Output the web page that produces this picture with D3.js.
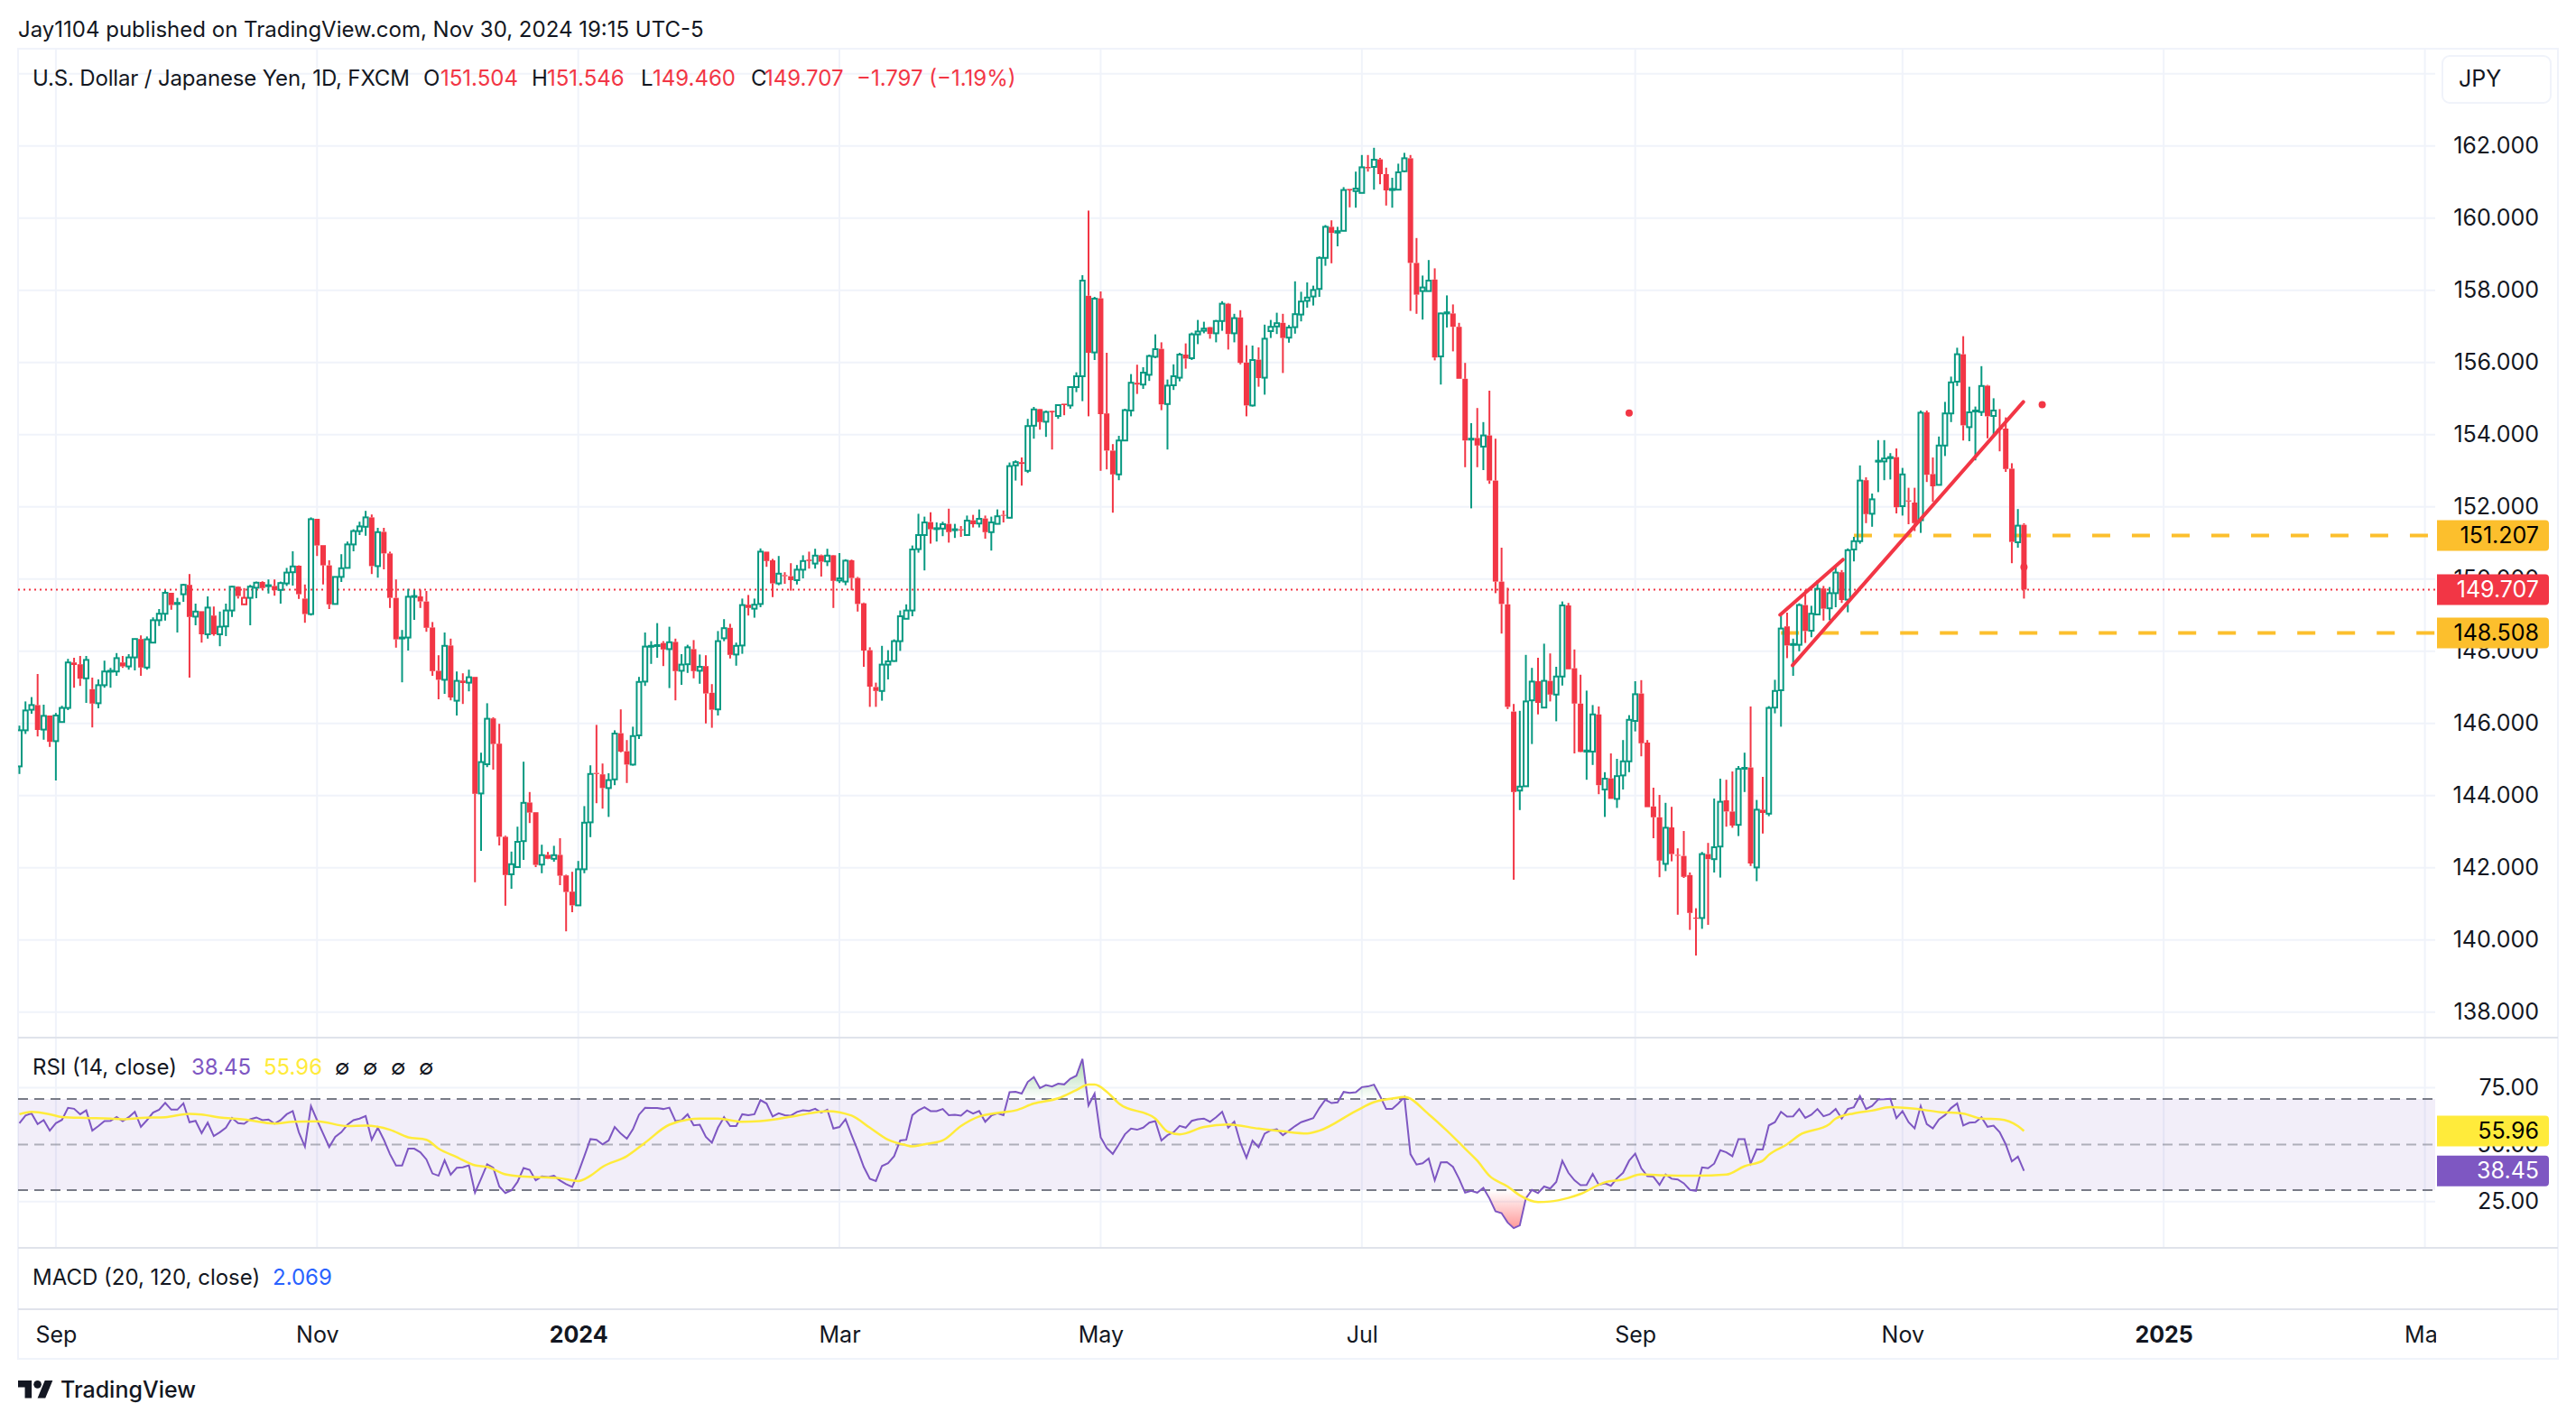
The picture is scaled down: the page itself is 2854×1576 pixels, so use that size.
<!DOCTYPE html>
<html>
<head>
<meta charset="utf-8">
<script src="https://cdn.jsdelivr.net/npm/d3@7"></script>
<style>
  html, body { margin: 0; padding: 0; background: #fff; }
  text { font-family: Inter, "Noto Sans", sans-serif; fill: #131722; }
</style>
</head>
<body>
<div id="chart"></div>
<script>
// daily candles
const opens = [
  144.81,145.81,146.38,146.51,145.83,146.22,145.51,146.04,146.43,147.69,
  147.64,147.25,146.95,146.56,147.06,147.44,147.44,147.69,147.58,147.83,
  148.34,147.55,148.24,148.86,149.04,149.62,149.31,149.58,149.84,148.96,
  149.11,148.47,148.99,148.47,148.69,149.13,149.79,149.30,149.48,149.76,
  149.92,149.81,149.81,149.70,149.88,150.19,150.37,149.46,149.03,151.67,
  150.94,150.38,149.31,150.06,150.31,150.96,151.33,151.45,151.71,150.36,
  151.31,150.71,149.48,148.36,148.38,149.51,149.52,149.38,148.66,147.46,
  147.21,148.16,146.63,147.19,147.13,147.29,144.06,144.87,146.14,145.44,
  142.86,141.82,142.02,142.74,143.81,143.54,142.09,142.36,142.25,142.36,
  141.79,141.34,140.96,141.96,143.26,144.63,144.59,144.21,144.45,145.73,
  145.23,144.86,145.67,147.16,148.13,148.15,148.23,148.06,148.26,147.46,
  147.64,148.06,147.46,147.59,146.85,146.39,148.36,148.65,147.91,148.16,
  149.29,149.18,149.31,150.76,150.52,149.88,150.11,150.08,149.97,150.26,
  150.54,150.43,150.66,150.49,150.66,149.96,149.93,150.52,150.03,149.33,
  148.03,147.01,146.90,147.63,147.73,148.28,148.90,149.13,150.83,151.22,
  151.58,151.39,151.40,151.53,151.36,151.38,151.22,151.63,151.54,151.68,
  151.30,151.53,151.78,151.70,153.15,153.24,153.00,154.25,154.71,154.36,
  154.66,154.52,154.86,154.81,155.32,155.62,157.85,156.28,157.78,154.59,
  153.56,152.90,153.84,154.67,155.44,155.39,155.66,156.16,156.38,154.85,
  155.37,155.58,156.22,156.12,156.78,156.88,156.98,156.81,157.15,157.63,
  156.81,157.25,156.00,154.81,156.08,155.58,156.87,157.00,157.10,156.69,
  156.98,157.33,157.71,157.83,158.04,158.90,159.76,159.60,159.65,160.81,
  160.75,160.70,161.42,161.42,161.63,161.22,160.78,160.79,161.30,161.66,
  158.76,157.98,157.98,158.30,156.17,157.36,157.36,156.99,155.55,153.87,
  153.91,153.67,153.98,152.73,149.93,149.30,146.33,144.14,144.26,146.64,
  147.17,146.44,147.18,146.80,147.30,149.27,147.53,146.55,145.22,145.22,
  146.25,144.17,144.48,143.91,144.56,144.95,146.07,146.83,145.47,143.70,
  143.40,142.11,143.12,142.36,142.33,141.80,140.62,140.61,142.38,142.24,
  142.59,143.87,143.56,143.19,144.75,144.78,142.01,143.61,143.50,146.44,
  146.92,148.69,148.18,148.18,149.28,148.57,149.02,149.74,149.19,149.61,
  150.19,149.43,150.82,151.05,152.74,151.81,153.26,153.26,153.35,153.38,
  152.02,152.18,152.12,151.63,154.62,152.91,152.61,153.70,154.59,155.47,
  156.23,154.21,154.65,154.63,155.36,154.52,154.17,154.17,153.06,151.02,
  151.504
]
const highs = [
  145.94,146.61,146.73,147.37,146.52,146.22,146.29,146.49,147.79,147.82,
  147.87,147.87,147.27,147.22,147.74,147.54,147.95,147.87,147.92,148.34,
  148.44,148.41,148.94,149.17,149.69,149.62,149.48,149.87,150.14,149.32,
  149.11,149.52,149.24,149.10,149.32,149.81,149.80,149.75,149.84,149.93,
  149.94,149.99,149.99,149.93,150.31,150.77,150.38,149.85,151.71,151.67,
  150.94,150.52,150.06,150.69,151.04,151.38,151.59,151.89,151.79,151.42,
  151.42,150.76,149.99,148.59,149.73,149.70,149.71,149.67,148.81,147.89,
  148.52,148.35,147.44,147.39,147.49,147.29,145.19,146.56,146.17,145.99,
  142.89,142.45,143.14,144.94,144.10,143.54,142.64,142.44,142.61,142.82,
  141.81,141.89,142.19,143.71,144.84,145.96,144.89,144.62,145.81,146.39,
  145.54,145.91,147.29,148.52,148.28,148.78,148.28,148.68,148.35,147.92,
  148.18,148.31,147.91,147.89,147.09,148.56,148.89,148.76,148.24,149.46,
  149.56,149.46,150.85,150.76,150.56,150.64,150.19,150.44,150.39,150.66,
  150.76,150.84,150.68,150.84,150.67,150.72,150.55,150.54,150.06,149.35,
  148.11,147.13,148.15,148.03,148.33,149.13,149.30,150.93,151.81,151.73,
  151.85,151.57,151.59,151.95,151.53,151.47,151.76,151.78,151.93,151.76,
  151.73,151.93,151.90,153.23,153.29,153.37,154.44,154.77,154.72,154.67,
  154.67,154.82,154.86,155.34,155.73,158.42,160.21,157.82,157.97,156.27,
  153.74,153.97,154.72,155.68,155.94,155.87,156.22,156.78,156.56,155.53,
  155.95,156.27,156.53,156.83,157.18,157.13,156.99,157.18,157.70,157.65,
  157.35,157.45,156.48,156.47,156.42,157.05,157.18,157.38,157.35,157.04,
  158.25,157.96,158.22,158.13,158.94,159.81,159.94,159.76,160.86,160.81,
  161.29,161.75,161.75,161.95,161.67,161.40,161.12,161.51,161.81,161.75,
  159.45,158.41,158.84,158.61,157.38,157.86,157.61,157.10,155.99,154.32,
  154.74,154.35,155.22,153.89,150.87,149.76,146.54,146.35,147.90,147.54,
  147.82,148.21,147.94,147.57,149.38,149.34,148.05,147.35,146.91,146.51,
  146.47,144.65,145.17,145.02,145.54,146.23,147.17,147.20,145.54,144.22,
  144.02,143.80,143.69,142.54,143.02,141.87,140.88,142.44,142.69,143.92,
  144.47,144.44,144.67,144.82,145.19,146.47,143.88,144.52,146.48,147.21,
  149.01,149.07,148.35,149.33,149.70,149.26,149.97,149.81,149.78,150.33,
  150.25,150.85,151.17,153.15,152.82,152.37,153.85,153.85,153.49,153.62,
  153.08,152.53,152.53,154.67,154.67,153.37,153.95,154.91,155.61,156.41,
  156.73,155.33,154.78,155.90,155.38,155.01,154.71,154.48,153.21,151.94,
  151.546
]
const lows = [
  144.60,145.71,146.27,145.64,145.55,145.35,144.42,146.04,146.37,146.99,
  147.04,146.57,145.89,146.42,146.99,146.99,147.32,147.54,147.49,147.47,
  147.32,147.49,148.24,148.70,148.85,149.15,148.52,149.37,147.27,148.72,
  148.24,148.35,148.43,148.14,148.42,148.95,149.46,149.30,148.72,149.47,
  149.71,149.60,149.54,149.32,149.81,149.82,149.45,148.79,148.99,150.64,
  149.85,149.17,149.31,149.92,150.31,150.77,151.22,151.20,150.14,150.04,
  150.27,149.20,148.10,147.14,148.02,148.87,149.20,148.54,147.32,146.67,
  146.82,146.64,146.22,146.54,146.89,141.60,142.47,144.79,144.72,142.62,
  140.95,141.42,142.00,142.22,143.24,142.02,141.85,142.24,142.17,141.52,
  140.24,140.77,140.96,141.85,142.85,143.79,143.64,143.41,144.29,145.20,
  144.35,144.83,145.57,147.04,147.65,147.82,147.59,146.98,146.64,147.07,
  147.40,147.25,147.10,146.00,145.88,146.22,148.28,147.80,147.60,147.93,
  148.99,148.93,149.22,150.34,149.50,149.83,149.87,149.68,149.85,150.02,
  150.29,150.29,150.07,150.36,149.20,149.89,149.83,149.69,149.10,147.57,
  146.46,146.46,146.63,147.22,147.71,148.01,148.90,148.97,150.73,150.24,
  150.98,151.04,151.19,151.01,151.14,151.17,151.22,151.43,151.43,151.12,
  150.79,151.53,151.57,151.68,152.73,152.59,152.94,153.89,154.14,153.94,
  153.59,154.44,154.54,154.72,155.18,154.93,154.51,156.07,153.00,153.04,
  151.84,152.74,153.82,154.51,155.13,155.27,155.49,156.12,154.68,153.59,
  155.24,155.48,155.83,156.07,156.51,156.81,156.66,156.56,156.88,156.36,
  156.56,155.95,154.51,154.78,155.33,155.11,156.68,156.79,155.71,156.55,
  156.80,157.14,157.52,157.58,157.82,158.68,158.75,159.22,159.64,160.30,
  160.29,160.70,161.29,160.79,160.94,160.35,160.29,160.77,161.27,157.43,
  157.35,157.19,157.98,156.06,155.39,156.97,156.31,155.55,153.10,151.96,
  153.10,153.02,152.64,149.61,148.49,146.40,141.67,143.60,144.26,145.43,
  146.25,146.44,146.61,146.06,147.05,147.50,145.17,145.20,144.44,144.85,
  144.04,143.41,143.91,143.66,144.17,144.65,145.78,145.09,143.68,142.82,
  141.74,141.91,142.18,140.70,141.72,140.28,139.57,140.31,140.42,141.87,
  141.73,143.14,143.11,142.88,144.10,142.05,141.63,142.95,143.43,146.28,
  145.91,147.81,147.32,148.00,148.23,148.39,149.02,148.85,148.86,149.22,
  149.34,149.08,150.49,150.98,151.55,151.45,152.41,152.74,152.76,151.82,
  151.76,151.52,151.33,151.28,152.69,152.14,152.61,153.41,154.35,155.35,
  153.84,153.82,153.29,154.52,153.90,153.95,153.54,152.97,150.44,150.87,
  149.46
]
const closes = [
  145.81,146.36,146.51,145.82,146.21,145.49,146.22,146.43,147.69,147.62,
  147.24,147.76,146.55,147.06,147.44,147.46,147.81,147.58,147.83,148.34,
  147.55,148.33,148.86,149.04,149.62,149.28,149.34,149.84,148.95,149.10,
  148.47,149.21,148.47,148.68,149.13,149.79,149.53,149.48,149.79,149.90,
  149.75,149.83,149.69,149.89,150.18,150.35,149.58,149.03,151.66,150.93,
  150.38,149.30,150.06,150.30,150.96,151.33,151.46,151.71,150.36,151.30,
  150.71,149.48,148.33,148.38,149.51,149.53,149.38,148.65,147.45,147.21,
  148.15,146.72,147.18,147.12,147.28,144.05,144.93,146.13,145.43,142.86,
  141.80,142.10,142.72,143.80,143.53,142.08,142.35,142.25,142.35,141.78,
  141.33,140.96,141.96,143.25,144.60,144.60,144.21,144.43,145.72,145.22,
  144.86,145.65,147.15,148.13,148.15,148.17,148.05,148.25,147.45,147.63,
  148.11,147.45,147.57,146.83,146.38,148.28,148.64,147.90,148.15,149.28,
  149.20,149.29,150.76,150.50,149.88,150.15,150.08,149.97,150.26,150.50,
  150.50,150.65,150.48,150.65,149.95,150.02,150.51,150.03,149.31,148.02,
  147.02,146.90,147.63,147.72,148.28,148.97,149.13,150.82,151.22,151.57,
  151.38,151.41,151.52,151.30,151.38,151.35,151.62,151.52,151.67,151.30,
  151.57,151.74,151.76,153.13,153.24,153.19,154.24,154.70,154.35,154.63,
  154.62,154.82,154.82,155.32,155.62,158.27,156.27,157.77,154.57,153.56,
  152.90,153.84,154.68,155.44,155.39,155.72,156.18,156.37,154.84,155.36,
  155.62,156.22,156.11,156.78,156.86,156.94,156.79,157.15,157.63,156.79,
  157.23,155.99,154.81,156.07,155.57,156.66,156.99,157.09,156.68,156.97,
  157.34,157.69,157.80,158.01,158.90,159.76,159.59,159.64,160.78,160.77,
  160.82,161.41,161.38,161.62,161.22,160.77,160.81,161.27,161.66,158.76,
  157.88,158.08,158.27,156.14,157.36,157.39,156.99,155.55,153.84,153.89,
  153.70,153.98,152.73,149.93,149.31,146.46,144.10,144.25,146.61,147.16,
  146.57,147.18,146.80,147.30,149.27,147.50,146.55,145.21,145.25,146.25,
  144.29,144.47,143.91,144.54,144.95,146.10,146.81,145.45,143.68,143.40,
  142.20,143.11,142.38,142.34,141.75,140.75,140.59,142.38,142.24,142.57,
  143.83,143.56,143.17,144.74,144.77,142.12,143.61,143.52,146.43,146.90,
  148.63,148.16,148.20,149.28,148.56,149.04,149.73,149.18,149.61,150.18,
  149.42,150.80,151.05,152.73,151.80,152.21,153.28,153.34,153.38,151.99,
  152.90,152.15,151.55,154.61,152.89,152.57,153.70,154.59,155.45,156.23,
  154.26,154.62,154.67,155.35,154.51,154.67,154.15,153.05,151.03,151.48,
  149.707
]
// hollow but red: closed above its open, below the previous close
const hollowRed = [37]

const rsiValues = [
  59.4,62.7,63.7,59.0,60.7,56.1,59.4,60.8,66.1,65.7,
  63.3,65.0,56.1,58.1,60.3,60.4,62.1,60.3,62.0,64.4,
  57.8,60.7,64.0,65.3,68.3,65.3,65.3,68.1,59.8,60.4,
  55.0,59.6,53.7,55.4,57.4,61.7,59.4,59.1,61.1,61.9,
  60.7,61.0,59.2,60.7,63.3,64.7,55.4,49.1,66.9,60.7,
  54.8,48.9,53.4,55.4,58.7,60.7,61.4,62.5,52.1,57.4,
  52.1,45.8,40.8,40.8,48.2,48.2,46.6,43.5,37.3,36.3,
  43.1,36.8,39.8,40.0,40.9,28.9,35.0,41.3,39.8,31.6,
  28.7,29.9,33.6,39.7,38.9,34.3,36.0,35.7,36.3,34.2,
  32.6,31.4,37.6,44.9,52.4,52.1,50.1,51.8,57.7,54.8,
  52.6,56.7,63.1,66.1,66.0,66.0,65.6,66.2,60.3,60.7,
  63.3,58.4,58.7,53.4,50.8,57.4,62.0,58.1,58.1,63.3,
  62.9,63.3,69.5,68.0,62.3,63.7,62.9,62.7,64.3,65.0,
  64.8,65.7,64.0,65.3,57.0,57.7,61.1,54.1,47.5,40.2,
  35.0,34.0,40.6,41.8,44.9,51.8,52.1,62.9,65.0,66.4,
  64.7,64.7,65.6,62.9,63.1,62.7,65.0,63.6,64.7,60.0,
  62.7,63.7,62.9,73.0,73.2,72.4,77.5,79.6,74.8,76.1,
  75.5,76.7,76.4,78.9,80.2,87.6,67.2,72.4,53.2,48.5,
  45.9,50.1,54.5,57.0,56.5,57.4,59.6,60.3,51.8,54.1,
  55.4,58.2,57.4,60.4,61.1,61.4,60.0,62.0,64.4,57.4,
  60.0,50.8,44.2,51.7,48.8,54.8,56.3,56.7,54.1,56.1,
  58.1,59.8,60.7,61.6,66.0,69.7,68.2,68.5,73.1,72.7,
  73.0,75.2,75.5,76.3,71.3,65.6,65.6,68.0,70.9,45.8,
  41.2,41.8,43.9,34.3,42.2,42.3,40.2,35.0,28.9,29.7,
  28.9,31.0,26.4,20.7,19.9,15.8,13.3,14.5,26.4,30.1,
  28.7,31.6,30.7,33.6,42.9,37.6,34.3,32.2,32.3,37.1,
  32.3,33.0,31.9,35.2,37.6,42.9,46.0,39.6,36.1,35.9,
  32.3,36.9,35.0,34.7,33.0,30.1,29.7,40.0,39.6,41.6,
  47.5,46.6,44.9,52.4,52.4,41.6,47.9,47.8,58.4,59.8,
  64.4,62.3,62.4,65.6,61.7,63.1,65.6,62.4,63.3,65.6,
  61.4,65.6,66.4,71.3,65.6,67.0,69.8,69.9,70.1,61.6,
  64.7,59.8,57.1,66.9,59.0,57.1,61.0,62.9,66.0,68.0,
  58.4,59.6,59.8,62.0,57.8,58.3,55.4,50.1,42.6,44.7,
  38.45
]
// yellow RSI average, read at the bars where its bends are
const rsiMaBars = [0,2,5,7,11,15,17,20,24,28,30,33,37,42,45,49,54,57,61,64,67,69,72,75,77,80,82,86,89,92,94,96,100,103,107,112,115,119,122,128,133,137,140,143,146,147,149,152,155,158,161,164,167,171,174,176,177,179,181,187,189,191,195,199,204,208,212,214,220,223,226,228,232,235,238,240,242,245,247,250,252,255,257,261,264,267,270,276,281,284,287,288,291,293,298,299,302,305,308,312,316,320,323,326,329,330]
const rsiMaValues = [63.3,64.4,63.3,62.1,61.7,61.4,61.1,61.7,62.0,63.5,63.2,61.9,61.0,59.2,60.0,60.2,58.1,58.3,56.5,53.2,52.1,48.2,44.5,40.9,40.2,36.9,36.1,35.6,35.2,34.0,36.3,40.2,44.9,50.8,58.7,61.4,61.4,60.0,60.3,62.7,64.7,62.7,57.4,52.1,49.7,49.2,50.1,51.8,58.1,62.3,63.9,65.0,68.0,70.3,73.9,76.3,76.3,73.2,68.0,61.4,55.7,54.5,57.7,58.8,57.0,55.8,54.9,56.1,64.7,68.6,70.2,70.9,63.3,56.1,48.2,42.9,36.3,31.6,27.7,24.8,25.0,26.6,28.3,33.4,34.6,36.9,36.5,36.3,36.8,40.5,42.9,45.5,50.1,54.1,59.0,61.4,63.7,64.9,66.4,65.7,64.3,63.6,61.4,61.1,58.1,55.96]

const priceTicks = [138,140,142,144,146,148,150,152,154,156,158,160,162]
const priceGrid = priceTicks.concat([164])
const rsiTicks = [75,50,25]
const timeBars = [6,49,92,135,178,221,266,310,353,396]
const timeLabels = ["Sep","Nov","2024","Mar","May","Jul","Sep","Nov","2025","Mar"]
const yearLabels = ["2024","2025"]

const lastPrice = 149.707
const lastRsi = 38.45
const lastRsiMa = 55.96

// drawn on the chart by hand, in bar / price
const trendLines = [
  {x1: 289.85, y1: 149.01, x2: 300.2, y2: 150.54},
  {x1: 291.9, y1: 147.61, x2: 329.9, y2: 154.91}
]
const trendDots = [
  {x: 265, y: 154.6},
  {x: 333, y: 154.83},
  {x: 330, y: 150.33}
]
const levels = [
  {value: 151.207, from: 302},
  {value: 148.508, from: 290}
]

const green = "#089981"
const red = "#f23645"
const gridColor = "#f0f3fa"
const borderColor = "#e0e3eb"
const orange = "#fcbf2d"
const purple = "#7e57c2"
const yellow = "#ffeb3b"

const fontSize = 24
const axisFontSize = 25

const width = 2854
const height = 1576
const left = 20
const plotRight = 2698
const right = 2834

const svg = d3.select("#chart").append("svg")
  .attr("width", width)
  .attr("height", height)
  .style("display", "block")

const x = d3.scaleLinear().domain([0, 330]).range([21.5, 2242.4])
const y = d3.scaleLinear().domain([152, 140]).range([561.8, 1041.8])
const yRsi = d3.scaleLinear().domain([70, 30]).range([1218, 1319])

const defs = svg.append("defs")
defs.append("clipPath").attr("id", "main-clip").append("rect")
  .attr("x", left).attr("y", 54).attr("width", plotRight - left).attr("height", 1096)
defs.append("clipPath").attr("id", "time-clip").append("rect")
  .attr("x", left).attr("y", 1452).attr("width", plotRight + 1 - left).attr("height", 54)
defs.append("clipPath").attr("id", "above-70").append("rect")
  .attr("x", left).attr("y", 1152).attr("width", plotRight - left).attr("height", yRsi(70) - 1152)
defs.append("clipPath").attr("id", "below-30").append("rect")
  .attr("x", left).attr("y", yRsi(30)).attr("width", plotRight - left).attr("height", 1382 - yRsi(30))

const greenFade = defs.append("linearGradient").attr("id", "green-fade")
  .attr("gradientUnits", "userSpaceOnUse").attr("x1", 0).attr("x2", 0).attr("y1", yRsi(87)).attr("y2", yRsi(70))
greenFade.append("stop").attr("offset", 0).attr("stop-color", "#4caf50").attr("stop-opacity", 0.45)
greenFade.append("stop").attr("offset", 1).attr("stop-color", "#4caf50").attr("stop-opacity", 0)
const redFade = defs.append("linearGradient").attr("id", "red-fade")
  .attr("gradientUnits", "userSpaceOnUse").attr("x1", 0).attr("x2", 0).attr("y1", yRsi(30)).attr("y2", yRsi(13))
redFade.append("stop").attr("offset", 0).attr("stop-color", "#ff5252").attr("stop-opacity", 0)
redFade.append("stop").attr("offset", 1).attr("stop-color", "#ff5252").attr("stop-opacity", 0.6)

// grid
const grid = svg.append("g").attr("fill", "none").attr("stroke", gridColor).attr("stroke-width", 2)
grid.selectAll(".v-grid").data(timeBars.filter(d => x(d) < plotRight))
  .enter().append("line")
    .attr("x1", d => x(d)).attr("x2", d => x(d))
    .attr("y1", 54).attr("y2", 1383)
grid.selectAll(".h-grid").data(priceGrid)
  .enter().append("line")
    .attr("x1", left).attr("x2", plotRight)
    .attr("y1", d => y(d)).attr("y2", d => y(d))
grid.selectAll(".r-grid").data([75, 25])
  .enter().append("line")
    .attr("x1", left).attr("x2", plotRight)
    .attr("y1", d => yRsi(d)).attr("y2", d => yRsi(d))

// pane borders
const borders = svg.append("g").attr("stroke-width", 2)
borders.append("rect")
  .attr("x", left).attr("y", 54).attr("width", right - left).attr("height", 1452)
  .attr("fill", "none").attr("stroke", gridColor)
borders.selectAll(".pane").data([1150, 1383, 1451])
  .enter().append("line")
    .attr("x1", left).attr("x2", right)
    .attr("y1", d => d).attr("y2", d => d)
    .attr("stroke", borderColor)

const main = svg.append("g").attr("clip-path", "url(#main-clip)")

// levels under the candles
main.selectAll(".level").data(levels)
  .enter().append("line")
    .attr("x1", d => x(d.from)).attr("x2", plotRight)
    .attr("y1", d => y(d.value)).attr("y2", d => y(d.value))
    .attr("stroke", orange).attr("stroke-width", 4).attr("stroke-dasharray", "20 24")

// last price line
main.append("line")
  .attr("x1", left).attr("x2", plotRight)
  .attr("y1", y(lastPrice)).attr("y2", y(lastPrice))
  .attr("stroke", red).attr("stroke-width", 2).attr("stroke-dasharray", "2 4")

const bars = d3.range(closes.length)
const isUp = i => closes[i] >= opens[i]
const barColor = i => (isUp(i) && !hollowRed.includes(i)) ? green : red

main.selectAll(".wick-top").data(bars)
  .enter().append("line")
    .attr("class", "wick-top")
    .attr("x1", i => x(i)).attr("x2", i => x(i))
    .attr("y1", i => y(highs[i]))
    .attr("y2", i => y(Math.max(opens[i], closes[i])))
    .attr("stroke", barColor).attr("stroke-width", 2)
main.selectAll(".wick-bottom").data(bars)
  .enter().append("line")
    .attr("class", "wick-bottom")
    .attr("x1", i => x(i)).attr("x2", i => x(i))
    .attr("y1", i => y(Math.min(opens[i], closes[i])))
    .attr("y2", i => y(lows[i]))
    .attr("stroke", barColor).attr("stroke-width", 2)
main.selectAll(".body").data(bars)
  .enter().append("rect")
    .attr("class", "body")
    .attr("x", i => x(i) - (isUp(i) ? 2.5 : 3))
    .attr("width", i => isUp(i) ? 5 : 6)
    .attr("y", i => y(Math.max(opens[i], closes[i])))
    .attr("height", i => Math.max(y(Math.min(opens[i], closes[i])) - y(Math.max(opens[i], closes[i])), 1))
    .attr("fill", i => isUp(i) ? "none" : barColor(i))
    .attr("stroke", i => isUp(i) ? barColor(i) : "none")
    .attr("stroke-width", 2)

// trend lines and dots
main.selectAll(".trend").data(trendLines)
  .enter().append("line")
    .attr("x1", d => x(d.x1)).attr("x2", d => x(d.x2))
    .attr("y1", d => y(d.y1)).attr("y2", d => y(d.y2))
    .attr("stroke", red).attr("stroke-width", 4).attr("stroke-linecap", "round")
main.selectAll(".dot").data(trendDots)
  .enter().append("circle")
    .attr("cx", d => x(d.x)).attr("cy", d => y(d.y)).attr("r", 4)
    .attr("fill", red)

// RSI pane
const rsiG = svg.append("g")
rsiG.append("rect")
  .attr("x", left).attr("width", plotRight - left)
  .attr("y", yRsi(70)).attr("height", yRsi(30) - yRsi(70))
  .attr("fill", purple).attr("fill-opacity", 0.1)
rsiG.selectAll(".band").data([70, 50, 30])
  .enter().append("line")
    .attr("x1", left).attr("x2", plotRight)
    .attr("y1", d => yRsi(d)).attr("y2", d => yRsi(d))
    .attr("stroke", "#787b86").attr("stroke-width", 2)
    .attr("stroke-dasharray", "11 7")
    .attr("stroke-opacity", d => d === 50 ? 0.55 : 1)

const rsiArea = d3.area().x((d, i) => x(i)).y1(d => yRsi(d))
rsiG.append("path").datum(rsiValues)
  .attr("d", rsiArea.y0(yRsi(70)))
  .attr("fill", "url(#green-fade)").attr("clip-path", "url(#above-70)")
rsiG.append("path").datum(rsiValues)
  .attr("d", rsiArea.y0(yRsi(30)))
  .attr("fill", "url(#red-fade)").attr("clip-path", "url(#below-30)")

rsiG.append("path").datum(rsiValues)
  .attr("d", d3.line().x((d, i) => x(i)).y(d => yRsi(d)))
  .attr("fill", "none").attr("stroke", purple).attr("stroke-width", 2)
rsiG.append("path").datum(rsiMaValues)
  .attr("d", d3.line().x((d, i) => x(rsiMaBars[i])).y(d => yRsi(d)).curve(d3.curveMonotoneX))
  .attr("fill", "none").attr("stroke", yellow).attr("stroke-width", 2.5)

// axes
const priceAxis = svg.append("g")
  .attr("transform", "translate(2813,0)")
  .call(d3.axisRight(y).tickValues(priceTicks).tickFormat(d3.format(".3f")).tickSize(0).tickPadding(0))
const rsiAxis = svg.append("g")
  .attr("transform", "translate(2813,0)")
  .call(d3.axisRight(yRsi).tickValues(rsiTicks).tickFormat(d3.format(".2f")).tickSize(0).tickPadding(0))
// clip sits on a wrapper so its rect stays in page coordinates, the last label is cut at the axis
const timeAxis = svg.append("g")
  .attr("clip-path", "url(#time-clip)")
  .append("g")
  .attr("transform", "translate(0,1470)")
  .call(d3.axisBottom(x).tickValues(timeBars).tickFormat((d, i) => timeLabels[i]).tickSize(0).tickPadding(0))
const axes = [priceAxis, rsiAxis, timeAxis]
axes.forEach(function(a) {
  a.select(".domain").remove()
  a.selectAll("text")
    .style("font-family", "Inter, 'Noto Sans', sans-serif")
    .style("font-size", axisFontSize + "px")
    .attr("fill", "#131722")
})
priceAxis.selectAll("text").attr("text-anchor", "end")
rsiAxis.selectAll("text").attr("text-anchor", "end")
timeAxis.selectAll("text")
  .style("font-weight", function() { return yearLabels.includes(this.textContent) ? 700 : 400 })

// boxes on the axis: square on the left, round on the right
function axisBox(value, scale, fill, textColor, label) {
  const h = 34
  const w = 124
  const r = 4
  const cy = scale(value)
  const top = cy - h / 2
  const bx = 2700
  svg.append("path")
    .attr("d", `M${bx},${top}H${bx + w - r}Q${bx + w},${top} ${bx + w},${top + r}V${top + h - r}Q${bx + w},${top + h} ${bx + w - r},${top + h}H${bx}Z`)
    .attr("fill", fill)
  svg.append("text")
    .attr("x", 2813).attr("y", cy).attr("dy", "0.35em")
    .attr("text-anchor", "end")
    .style("font-size", axisFontSize + "px")
    .style("fill", textColor)
    .text(label)
}
axisBox(levels[0].value, y, orange, "#000", d3.format(".3f")(levels[0].value))
axisBox(levels[1].value, y, orange, "#000", d3.format(".3f")(levels[1].value))
axisBox(lastPrice, y, red, "#fff", d3.format(".3f")(lastPrice))
axisBox(lastRsiMa, yRsi, yellow, "#000", d3.format(".2f")(lastRsiMa))
axisBox(lastRsi, yRsi, purple, "#fff", d3.format(".2f")(lastRsi))

// currency button
svg.append("rect")
  .attr("x", 2706).attr("y", 62).attr("width", 120).attr("height", 52).attr("rx", 8)
  .attr("fill", "#fff").attr("stroke", gridColor).attr("stroke-width", 2)
svg.append("text").attr("x", 2724).attr("y", 87).attr("dy", "0.35em")
  .style("font-size", axisFontSize + "px").text("JPY")

// header, legends and footer
function label(xPos, yPos, str, color, weight) {
  return svg.append("text")
    .attr("x", xPos).attr("y", yPos).attr("dy", "0.35em")
    .style("font-size", fontSize + "px")
    .style("fill", color || "#131722")
    .style("font-weight", weight || 400)
    .text(str)
}
label(20, 33, "Jay1104 published on TradingView.com, Nov 30, 2024 19:15 UTC-5")
label(36, 87, "U.S. Dollar / Japanese Yen, 1D, FXCM").style("letter-spacing", "-0.15px")
const ohlcLegend = [
  [469, "O"], [488, "151.504"], [589, "H"], [606, "151.546"],
  [710, "L"], [723, "149.460"], [832, "C"], [847, "149.707"]
]
ohlcLegend.forEach(function(d, i) {
  label(d[0], 87, d[1], i % 2 ? red : "#131722")
})
label(949, 87, "−1.797 (−1.19%)", red)

label(36, 1183, "RSI (14, close)")
label(212, 1183, "38.45", purple)
label(292, 1183, "55.96", yellow)
const naX = [371, 402, 433, 464]
naX.forEach(d => label(d, 1183, "∅"))
label(36, 1416, "MACD (20, 120, close)")
label(302, 1416, "2.069", "#2962ff")

// logo
const logo = svg.append("g").attr("transform", "translate(20,1525.7) scale(1.08)").attr("fill", "#131722")
logo.append("path").attr("d", "M14 22H7V11H0V4h14v18zM28 22h-8l7.5-18h8L28 22z")
logo.append("circle").attr("cx", 20).attr("cy", 8).attr("r", 4)
label(67, 1540, "TradingView").style("font-size", "25px").style("font-weight", 500)
</script>
</body>
</html>
